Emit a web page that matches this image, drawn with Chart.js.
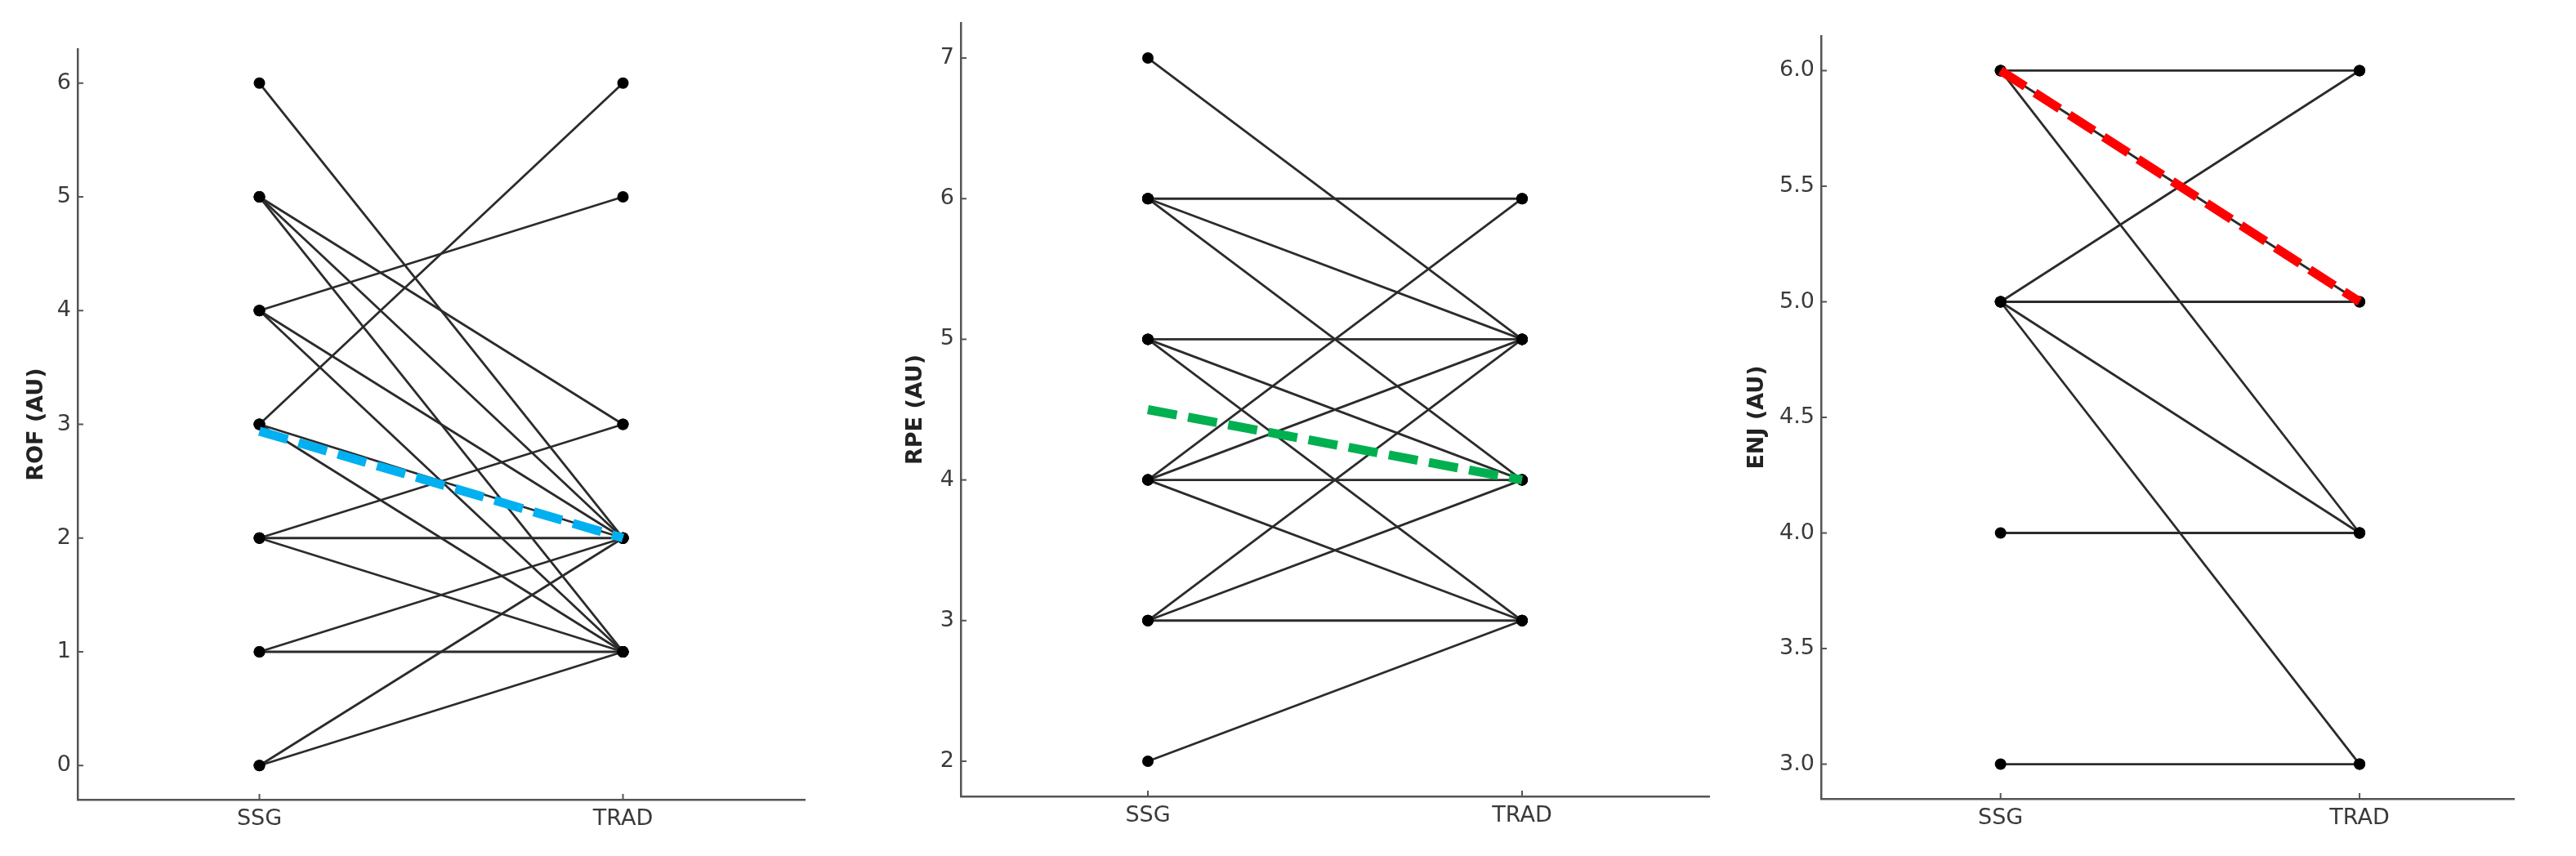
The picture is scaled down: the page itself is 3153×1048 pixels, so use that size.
<!DOCTYPE html>
<html>
<head>
<meta charset="utf-8">
<script src="https://cdn.jsdelivr.net/npm/chart.js@4.4.1/dist/chart.umd.min.js"></script>
<style>
  body { margin: 0; background: #fff; width: 3153px; height: 1048px; position: relative; overflow: hidden; }
  canvas { position: absolute; top: 0; }
</style>
</head>
<body>
<canvas id="rofChart" width="1010" height="1048" style="left:0px"></canvas>
<canvas id="rpeChart" width="1044" height="1048" style="left:1076px"></canvas>
<canvas id="enjChart" width="1033" height="1048" style="left:2120px"></canvas>
<script>
// kategori sumbu x
const groups = ['SSG', 'TRAD'];

// ROF: pasangan nilai per peserta (SSG -> TRAD)
const rofSSG  = [6, 5, 5, 5, 4, 4, 4, 3, 3, 3, 2, 2, 2, 1, 1, 0, 0];
const rofTRAD = [2, 3, 2, 1, 5, 2, 1, 6, 2, 1, 3, 2, 1, 2, 1, 2, 1];
const rofMid  = [2.94, 2.0];
const rofTicks = [0, 1, 2, 3, 4, 5, 6];

// RPE
const rpeSSG  = [7, 6, 6, 6, 5, 5, 5, 4, 4, 4, 4, 3, 3, 3, 2];
const rpeTRAD = [5, 6, 5, 4, 5, 4, 3, 6, 5, 4, 3, 5, 4, 3, 3];
const rpeMid  = [4.5, 4.0];
const rpeTicks = [2, 3, 4, 5, 6, 7];

// ENJ
const enjSSG  = [6, 6, 6, 5, 5, 5, 5, 4, 3];
const enjTRAD = [6, 5, 4, 6, 5, 4, 3, 4, 3];
const enjMid  = [6.0, 5.0];
const enjTicks = [3.0, 3.5, 4.0, 4.5, 5.0, 5.5, 6.0];

const FONT = 'DejaVu Sans';

// tick kecil ke arah dalam, gaya matplotlib
const innerTicks = {
    id: 'innerTicks',
    beforeDatasetsDraw(chart) {
        const { ctx, chartArea, scales } = chart;
        ctx.save();
        ctx.strokeStyle = '#555';
        ctx.lineWidth = 2;
        scales.y.ticks.forEach(t => {
            const py = scales.y.getPixelForValue(t.value);
            ctx.beginPath();
            ctx.moveTo(chartArea.left, py);
            ctx.lineTo(chartArea.left + 7, py);
            ctx.stroke();
        });
        scales.x.ticks.forEach(t => {
            const px = scales.x.getPixelForValue(t.value);
            ctx.beginPath();
            ctx.moveTo(px, chartArea.bottom);
            ctx.lineTo(px, chartArea.bottom - 7);
            ctx.stroke();
        });
        ctx.restore();
    }
};

function makePanel(id, cfg) {
    const datasets = cfg.ssg.map((v, i) => ({
        data: [{ x: 0, y: v }, { x: 1, y: cfg.trad[i] }],
        borderColor: '#2b2b2b',
        borderWidth: 2.8,
        pointRadius: 7,
        pointBackgroundColor: '#000',
        pointBorderWidth: 0,
        order: 1
    }));
    datasets.push({
        data: [{ x: 0, y: cfg.mid[0] }, { x: 1, y: cfg.mid[1] }],
        borderColor: cfg.color,
        borderWidth: 11,
        borderDash: [36, 14],
        pointRadius: 0,
        order: 0
    });

    new Chart(document.getElementById(id), {
        type: 'line',
        data: { datasets },
        options: {
            responsive: false,
            animation: false,
            layout: { padding: { left: 0, right: cfg.padRight, top: cfg.top, bottom: 0 } },
            plugins: { legend: { display: false }, tooltip: { enabled: false } },
            scales: {
                x: {
                    type: 'linear',
                    min: -0.5,
                    max: cfg.xMax,
                    grid: { display: false, drawTicks: false },
                    border: { color: '#555', width: 2.5 },
                    ticks: {
                        color: '#3a3a3a',
                        font: { family: FONT, size: 27 },
                        padding: 8,
                        callback: v => groups[v]
                    },
                    afterBuildTicks: s => { s.ticks = [0, 1].map(v => ({ value: v })); },
                    afterFit: s => { s.height = cfg.xHeight; }
                },
                y: {
                    min: cfg.yMin,
                    max: cfg.yMax,
                    grid: { display: false, drawTicks: false },
                    border: { color: '#555', width: 2.5 },
                    ticks: {
                        color: '#3a3a3a',
                        font: { family: FONT, size: 27 },
                        padding: 8,
                        callback: v => cfg.decimals ? v.toFixed(1) : v
                    },
                    title: {
                        display: true,
                        text: cfg.label,
                        color: '#222',
                        font: { family: FONT, size: 27, weight: 'bold' },
                        padding: { top: cfg.titlePad, bottom: 0 }
                    },
                    afterBuildTicks: s => { s.ticks = cfg.ticks.map(v => ({ value: v })); },
                    afterFit: s => { s.width = cfg.yWidth; }
                }
            }
        },
        plugins: [innerTicks]
    });
}

makePanel('rofChart', {
    ssg: rofSSG, trad: rofTRAD, mid: rofMid, ticks: rofTicks,
    color: '#00B0F0', label: 'ROF (AU)',
    yMin: -0.3, yMax: 6.3, xMax: 1.5,
    yWidth: 95, xHeight: 69, top: 60, padRight: 25, titlePad: 29
});

makePanel('rpeChart', {
    ssg: rpeSSG, trad: rpeTRAD, mid: rpeMid, ticks: rpeTicks,
    color: '#00B050', label: 'RPE (AU)',
    yMin: 1.75, yMax: 7.25, xMax: 1.5,
    yWidth: 100, xHeight: 73, top: 28, padRight: 28, titlePad: 29
});

makePanel('enjChart', {
    ssg: enjSSG, trad: enjTRAD, mid: enjMid, ticks: enjTicks,
    color: '#FF0000', label: 'ENJ (AU)', decimals: true,
    yMin: 2.85, yMax: 6.15, xMax: 1.43,
    yWidth: 109, xHeight: 70, top: 44, padRight: 76, titlePad: 15
});
</script>
</body>
</html>
